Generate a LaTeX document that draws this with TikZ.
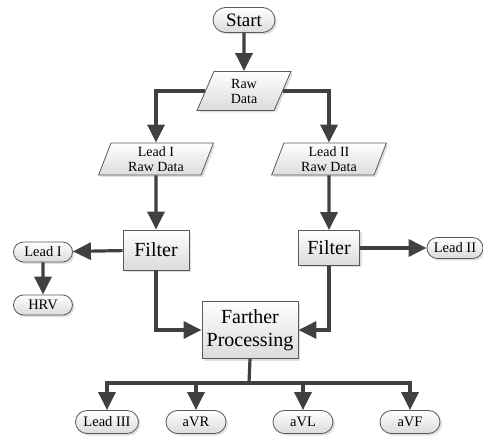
\documentclass[tikz,border=0pt]{standalone}
\usepackage{fontspec}
\setmainfont{Liberation Serif}
\usetikzlibrary{shapes.geometric,shapes.misc,arrows.meta,shadows}
\begin{document}
\begin{tikzpicture}[x=1pt,y=-1pt]
	\tikzstyle{every node}+=[inner sep=0pt, align=center]
	\tikzstyle{shadebox}=[top color=white, bottom color=black!14, draw=black!65, line width=0.8pt, drop shadow={opacity=0.25, shadow xshift=2pt, shadow yshift=-2pt}]
	\tikzstyle{terminal}=[shadebox, rounded rectangle, font=\fontsize{14.5}{15}\selectfont]
	\tikzstyle{data}=[shadebox, trapezium, trapezium stretches=true, trapezium left angle=73, trapezium right angle=107, font=\fontsize{14}{15}\selectfont]
	\tikzstyle{block}=[shadebox, rectangle, font=\fontsize{20}{23}\selectfont]
	\tikzstyle{flow}=[draw=black!75, line width=3.2pt, -{Triangle[length=18pt,width=17pt]}]
	\useasboundingbox (0,0) rectangle (483,436);
	% top
	\node [terminal, minimum width=62pt, minimum height=25pt, font=\fontsize{19}{20}\selectfont] (start) at (244,20) {Start};
	\node [data, minimum width=94pt, minimum height=39pt] (raw) at (244,91) {Raw\\Data};
	\node [data, minimum width=115pt, minimum height=32pt] (rawI) at (156,159) {Lead I\\Raw Data};
	\node [data, minimum width=115pt, minimum height=32pt] (rawII) at (329,159) {Lead II\\Raw Data};
	% filters
	\node [block, minimum width=66pt, minimum height=40pt] (filterI) at (156,250) {Filter};
	\node [block, minimum width=61pt, minimum height=35pt] (filterII) at (329,248) {Filter};
	\node [terminal, minimum width=59pt, minimum height=20pt] (leadI) at (43,252) {Lead I};
	\node [terminal, minimum width=59pt, minimum height=20pt] (hrv) at (43,305) {HRV};
	\node [terminal, minimum width=56pt, minimum height=21pt] (leadII) at (455,248) {Lead II};
	\node [block, minimum width=96pt, minimum height=57pt] (proc) at (250,330) {Farther\\Processing};
	% outputs
	\node [terminal, minimum width=63pt, minimum height=23pt] (leadIII) at (107,422) {Lead III};
	\node [terminal, minimum width=60pt, minimum height=23pt] (avr) at (196,422) {aVR};
	\node [terminal, minimum width=60pt, minimum height=23pt] (avl) at (303,422) {aVL};
	\node [terminal, minimum width=60pt, minimum height=23pt] (avf) at (410,422) {aVF};
	\coordinate (bus) at (249,383);
	% connectors
	\draw [flow] (start) -- (raw);
	\draw [flow] (raw.west) -| (rawI.north);
	\draw [flow] (raw.east) -| (rawII.north);
	\draw [flow] (rawI) -- (filterI);
	\draw [flow] (rawII) -- (filterII);
	\draw [flow] (filterI) -- (leadI);
	\draw [flow] (leadI) -- (hrv);
	\draw [flow] (filterII) -- (leadII);
	\draw [flow] (filterI.south) |- (proc.west);
	\draw [flow] (filterII.south) |- (proc.east);
	\draw [flow, -] (proc.south) -- (bus);
	\draw [flow] (bus) -| (leadIII.north);
	\draw [flow] (bus) -| (avr.north);
	\draw [flow] (bus) -| (avl.north);
	\draw [flow] (bus) -| (avf.north);
\end{tikzpicture}
\end{document}
